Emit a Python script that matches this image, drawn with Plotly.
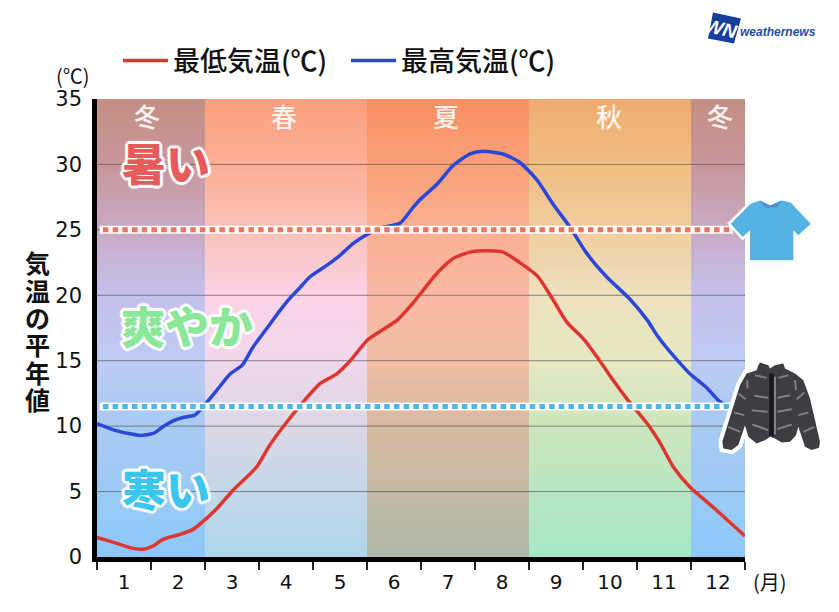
import plotly.graph_objects as go

W, H = 839, 612
L, R, T, B = 97, 745, 98.5, 557

# ---- data (x in months from start of January, y in deg C) ----
low_x = [0, .37, .67, .85, 1.04, 1.22, 1.54, 1.78, 1.96, 2.22, 2.52, 2.96, 3.2, 3.57, 3.89, 4.13, 4.44, 4.69, 5.0, 5.19, 5.56, 5.85, 6.3, 6.59, 6.91, 7.24, 7.52, 7.83, 8.15, 8.44, 8.7, 9.0, 9.31, 9.56, 9.81, 10.19, 10.43, 10.67, 10.98, 11.41, 12]
low_y = [1.5, 1.04, .66, .59, .84, 1.35, 1.73, 2.11, 2.7, 3.7, 5.1, 6.9, 8.55, 10.6, 12.2, 13.25, 14.0, 15.0, 16.55, 17.1, 18.1, 19.4, 21.7, 22.8, 23.3, 23.4, 23.3, 22.5, 21.5, 19.7, 17.95, 16.7, 15.0, 13.5, 12.1, 10.2, 8.7, 6.9, 5.35, 3.8, 1.6]
high_x = [0, .37, .8, 1.04, 1.22, 1.41, 1.59, 1.81, 1.96, 2.22, 2.46, 2.69, 2.89, 3.15, 3.39, 3.57, 3.76, 3.94, 4.26, 4.5, 4.74, 5.0, 5.3, 5.61, 5.85, 5.98, 6.3, 6.59, 6.91, 7.15, 7.52, 7.83, 8.15, 8.44, 8.76, 9.07, 9.44, 9.87, 10.19, 10.37, 10.67, 10.98, 11.3, 11.5, 12]
high_y = [10.2, 9.64, 9.29, 9.44, 9.95, 10.4, 10.66, 10.84, 11.47, 12.75, 13.97, 14.66, 16.05, 17.5, 18.85, 19.77, 20.6, 21.4, 22.3, 23.05, 23.95, 24.65, 25.2, 25.5, 26.7, 27.3, 28.5, 29.9, 30.8, 31.0, 30.8, 30.15, 28.8, 27.0, 25.2, 23.2, 21.4, 19.7, 18.1, 16.95, 15.4, 14.0, 12.9, 12.0, 10.6]
hot_line = 25
cold_line = 11.5
y_ticks = [0, 5, 10, 15, 20, 25, 30, 35]
months = ["1", "2", "3", "4", "5", "6", "7", "8", "9", "10", "11", "12"]
seasons = ["冬", "春", "夏", "秋", "冬"]
season_edges = [0, 2, 5, 8, 11, 12]
# background colour of each season at y = 0, 5, 10, 15, 20, 25, 30, 35
bg_levels = [0, 5, 10, 15, 20, 25, 30, 35]
bg_winter = [(140, 200, 250), (155, 202, 245), (168, 202, 242), (190, 203, 245), (197, 192, 236), (200, 170, 195), (200, 150, 155), (196, 143, 132)]
bg_spring = [(175, 215, 235), (195, 215, 232), (220, 215, 230), (240, 215, 235), (252, 210, 230), (250, 195, 185), (252, 175, 150), (250, 158, 125)]
bg_summer = [(175, 185, 165), (195, 185, 165), (215, 185, 160), (240, 190, 165), (250, 185, 165), (250, 175, 145), (250, 160, 120), (250, 143, 98)]
bg_autumn = [(165, 232, 195), (185, 230, 195), (205, 230, 190), (230, 232, 195), (238, 225, 190), (240, 205, 160), (240, 190, 130), (240, 170, 110)]
bg_cols = [bg_winter, bg_spring, bg_summer, bg_autumn, bg_winter]

JP = "Noto Sans CJK JP"
NUM = "DejaVu Sans"


def lerp_col(stops, v):
    for i in range(len(bg_levels) - 1):
        a, b = bg_levels[i], bg_levels[i + 1]
        if a <= v <= b:
            t = (v - a) / (b - a)
            return [round(stops[i][k] + (stops[i + 1][k] - stops[i][k]) * t) for k in range(3)]
    return list(stops[-1])


step = 0.1
rows = []
for r in range(350):
    v = (r + .5) * step
    row = []
    for c in range(24):
        m = (c + .5) * .5
        for s in range(5):
            if season_edges[s] <= m < season_edges[s + 1]:
                row.append(lerp_col(bg_cols[s], v))
    rows.append(row)


# page pixels -> paper fractions (paper spans the plot area)
def px(x):
    return (x - L) / (R - L)


def py(y):
    return (B - y) / (B - T)


def path(points, close=True):
    s = "M " + " L ".join(f"{px(x):.5f},{py(y):.5f}" for x, y in points)
    return s + (" Z" if close else "")


def shape(points, fill=None, color=None, width=0, close=True):
    return dict(type="path", xref="paper", yref="paper", path=path(points, close),
                fillcolor=fill if fill else "rgba(0,0,0,0)",
                line=dict(color=color if color else "rgba(0,0,0,0)", width=width), layer="above")


def note(x, y, text, font, **kw):
    return dict(x=px(x), y=py(y), xref="paper", yref="paper", text=text, showarrow=False,
                xanchor="center", yanchor="middle", font=font, **kw)


fig = go.Figure()
fig.add_trace(go.Image(z=rows, x0=.25, dx=.5, y0=step / 2, dy=step, hoverinfo="skip"))

gx, gy = [], []
for t in y_ticks[1:-1]:
    gx += [0, 12, None]
    gy += [t, t, None]
fig.add_trace(go.Scatter(x=gx, y=gy, mode="lines", showlegend=False, hoverinfo="skip",
                         line=dict(color="rgba(70,70,70,0.6)", width=1)))
fig.add_trace(go.Scatter(x=low_x, y=low_y, mode="lines", name="最低気温(℃)",
                         line=dict(color="#E0342F", width=3.5, shape="spline", smoothing=.6)))
fig.add_trace(go.Scatter(x=high_x, y=high_y, mode="lines", name="最高気温(℃)",
                         line=dict(color="#2B47D8", width=3.5, shape="spline", smoothing=.6)))

for val, col, x1 in [(hot_line, "#EA7660", 11.78), (cold_line, "#4DB8E8", 11.74)]:
    fig.add_trace(go.Scatter(x=[.05, x1], y=[val, val], mode="lines", showlegend=False, hoverinfo="skip",
                             line=dict(color="rgba(255,255,255,.95)", width=8)))
    fig.add_trace(go.Scatter(x=[.11, x1], y=[val, val], mode="lines", showlegend=False, hoverinfo="skip",
                             line=dict(color=col, width=5, dash="5.5px,4.2px")))

ann = []
for s, sxp in zip(seasons, [147, 284, 446, 609, 720]):
    ann.append(note(sxp, 115, s, dict(family=JP, size=26, color="rgba(255,255,255,.88)", weight=500)))

outline = ",".join(f"{a}px {b}px 1px #fff" for a, b in
                   [(3, 0), (-3, 0), (0, 3), (0, -3), (2, 2), (-2, 2), (2, -2), (-2, -2)])
for txt, col, xp, yp, size in [("暑い", "#E85B5B", 166, 162, 44), ("爽やか", "#8BE79A", 187, 325, 44),
                               ("寒い", "#3CC6EE", 166, 488, 44)]:
    ann.append(note(xp, yp, txt, dict(family=JP, size=size, color=col, weight=900, shadow=outline)))

for i, ch in enumerate("気温の平年値"):
    ann.append(note(37, 262 + i * 27.4, ch, dict(family=JP, size=25, color="#111", weight=700)))
ann.append(note(73, 75, "(℃)", dict(family=JP, size=20, color="#111")))
ann.append(note(770, 582, "(月)", dict(family=JP, size=20, color="#111")))
ann.append(note(724, 29, "<i>WNI</i>", dict(family="Liberation Sans", size=19, color="#fff", weight=700), textangle=13))
ann.append(note(778, 31.5, "<i>weathernews</i>", dict(family="Liberation Sans", size=12, color="#1F4FA3", weight=700)))

# logo
shapes = [shape([(713, 12), (741, 18), (734, 43), (708, 38)], fill="#153F9C")]

# t-shirt
sx = lambda z: 420 + z / 3
shirt = [(1020, 600), (1050, 615), (1085, 600), (1112, 606), (1172, 670), (1135, 705), (1120, 690), (1120, 780),
         (990, 780), (990, 690), (968, 710), (932, 670), (992, 610)]
shirt = [(sx(a), b / 3) for a, b in shirt]
shapes.append(shape(shirt, fill="#55B3E3", color="#fff", width=5))
shapes.append(shape(shirt, fill="#55B3E3"))
shapes.append(shape([(sx(a), b / 3) for a, b in [(1020, 600), (1050, 615), (1085, 600), (1070, 622), (1035, 622)]],
                    fill="#4B94CE"))

# jacket
jx = lambda z: 715 + z / 3
jy = lambda z: 355 + z / 3
jacket = [(130, 30), (135, 22), (160, 30), (165, 40), (180, 30), (205, 25), (210, 40), (240, 55), (265, 75), (285, 130),
          (315, 260), (312, 278), (290, 285), (270, 275), (250, 215), (243, 240), (225, 260), (200, 262), (180, 250),
          (165, 245), (150, 255), (125, 265), (100, 245), (90, 210), (70, 270), (50, 285), (25, 280), (22, 260),
          (50, 170), (75, 90), (95, 55), (125, 45)]
jacket = [(jx(a), jy(b)) for a, b in jacket]
shapes.append(shape(jacket, fill="#fff", color="#fff", width=8))
shapes.append(shape(jacket, fill="#3D3E41"))
shapes.append(shape([(jx(a), jy(b)) for a, b in [(163, 55), (176, 55), (176, 242), (163, 242)]], fill="#17181A"))
quilt = [[(180, 65), (180, 238)], [(118, 122), (160, 128)], [(187, 128), (225, 120)], [(110, 165), (158, 170)],
         [(187, 170), (230, 162)], [(112, 208), (160, 225)], [(187, 222), (230, 208)], [(70, 115), (92, 132)],
         [(268, 112), (245, 132)], [(58, 172), (88, 180)], [(280, 172), (250, 180)], [(40, 215), (75, 230)],
         [(298, 215), (265, 230)], [(97, 75), (97, 100)], [(240, 75), (243, 105)], [(120, 60), (155, 68)],
         [(190, 68), (220, 60)]]
for seg in quilt:
    shapes.append(shape([(jx(a), jy(b)) for a, b in seg], color="#808184", width=2, close=False))

fig.update_layout(
    width=W, height=H, autosize=False, paper_bgcolor="#fff", plot_bgcolor="#fff",
    margin=dict(l=L, r=W - R, t=T, b=H - B, pad=0),
    font=dict(family=JP, color="#111"),
    annotations=ann, shapes=shapes,
    legend=dict(orientation="h", x=px(118), y=py(36), xref="paper", yref="paper", xanchor="left", yanchor="top",
                font=dict(family=JP, size=27, color="#111", weight=500), itemwidth=45, bgcolor="rgba(0,0,0,0)",
                tracegroupgap=0, entrywidth=168, entrywidthmode="pixels"),
    xaxis=dict(range=[0, 12], tickmode="array", tickvals=[i + .5 for i in range(12)], ticktext=months, ticks="",
               showgrid=False, zeroline=False, showline=True, linecolor="#000", linewidth=4.5, tickangle=0,
               constrain="range",
               tickfont=dict(family=NUM, size=20, color="#111"), ticklabelstandoff=3,
               minor=dict(tickmode="array", tickvals=list(range(13)), ticks="outside", ticklen=8, tickwidth=1.5,
                          tickcolor="#222", showgrid=False)),
    yaxis=dict(range=[0, 35], tickmode="array", tickvals=y_ticks, ticks="", showgrid=False, zeroline=False,
               showline=True, linecolor="#000", linewidth=4.5, scaleanchor=False, constrain="range",
               tickfont=dict(family=NUM, size=21, color="#111"), ticklabelstandoff=6),
)
fig.write_html("out.html", config=dict(displayModeBar=False),
               post_script="document.body.style.margin='0';document.documentElement.style.overflow='hidden';")
